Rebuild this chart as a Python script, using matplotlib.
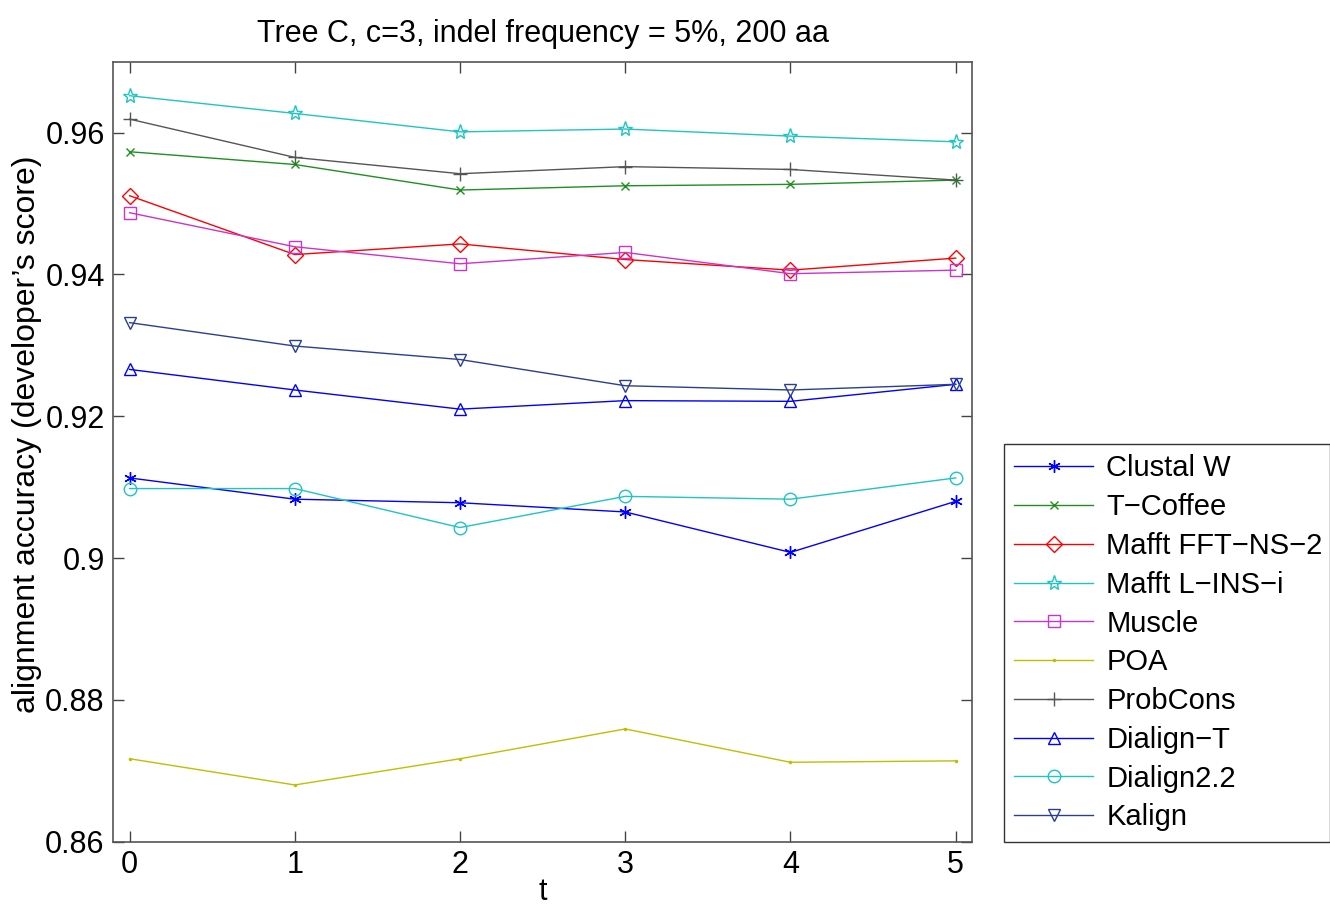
import matplotlib
matplotlib.use('Agg')
import matplotlib.pyplot as plt

plt.rcParams['font.family'] = ['Liberation Sans', 'DejaVu Sans']

# x values (t) and accuracy per aligner
t = [0, 1, 2, 3, 4, 5]

clustalw   = [0.9113, 0.9083, 0.9078, 0.9065, 0.9008, 0.9080]
tcoffee    = [0.9573, 0.9555, 0.9519, 0.9525, 0.9527, 0.9533]
mafft_fft  = [0.9511, 0.9428, 0.9443, 0.9421, 0.9406, 0.9423]
mafft_lins = [0.9652, 0.9627, 0.9601, 0.9605, 0.9595, 0.9587]
muscle     = [0.9487, 0.9439, 0.9415, 0.9431, 0.9401, 0.9406]
poa        = [0.8717, 0.8680, 0.8717, 0.8759, 0.8712, 0.8714]
probcons   = [0.9619, 0.9565, 0.9542, 0.9552, 0.9548, 0.9533]
dialign_t  = [0.9266, 0.9237, 0.9210, 0.9222, 0.9221, 0.9245]
dialign22  = [0.9098, 0.9098, 0.9043, 0.9087, 0.9083, 0.9113]
kalign     = [0.9332, 0.9299, 0.9280, 0.9243, 0.9237, 0.9245]

# name, values, colour, marker, marker size
series = [
    ('Clustal W',      clustalw,   '#0000ff', (6, 2, 0), 9),
    ('T\u2212Coffee',  tcoffee,    '#1f8f1f', 'x', 5.5),
    ('Mafft FFT\u2212NS\u22122', mafft_fft, '#ff0000', 'D', 8),
    ('Mafft L\u2212INS\u2212i',  mafft_lins, '#1fc4c4', '*', 11),
    ('Muscle',         muscle,     '#cc33cc', 's', 8),
    ('POA',            poa,        '#bfbf00', '.', 3),
    ('ProbCons',       probcons,   '#555555', '+', 10),
    ('Dialign\u2212T', dialign_t,  '#0000ff', '^', 9),
    ('Dialign2.2',     dialign22,  '#1fc4c4', 'o', 9),
    ('Kalign',         kalign,     '#2a3f8f', 'v', 9),
]

fig = plt.figure(figsize=(13.3, 9.07), dpi=100)
ax = fig.add_axes([0.085, 0.072, 0.646, 0.86])

for name, vals, col, mk, ms in series:
    face = col if mk in ('.', 'x', '+') else 'none'
    ax.plot(t, vals, color=col, marker=mk, markersize=ms, markerfacecolor=face,
            markeredgecolor=col, markeredgewidth=1.0, linewidth=1.0, label=name)

ax.set_xlim(-0.1, 5.1)
ax.set_ylim(0.86, 0.97)
ax.set_xticks(t)
ax.set_yticks([0.86, 0.88, 0.9, 0.92, 0.94, 0.96])
ax.set_yticklabels(['0.86', '0.88', '0.9', '0.92', '0.94', '0.96'])
ax.tick_params(direction='in', top=True, right=True, length=8, width=1,
               labelsize=22, color='#444444', pad=6)
for sp in ax.spines.values():
    sp.set_color('#555555')
    sp.set_linewidth(1.2)

ax.set_title('Tree C, c=3, indel frequency = 5%, 200 aa', fontsize=22, pad=14)
ax.set_xlabel('t', fontsize=22, labelpad=-2)
ax.set_ylabel('alignment accuracy (developer\u2019s score)', fontsize=23)
ax.yaxis.set_label_coords(-0.083, 0.522)

leg = fig.legend(loc='lower left', bbox_to_anchor=(0.755, 0.072, 0.245, 0.435),
                 mode='expand', fontsize=21, handlelength=2.7, labelspacing=0.37,
                 frameon=True, fancybox=False, borderaxespad=0, borderpad=0.35,
                 handletextpad=0.45)
leg.get_frame().set_edgecolor('black')
leg.get_frame().set_linewidth(1.0)

fig.savefig('out.png', dpi=100)
